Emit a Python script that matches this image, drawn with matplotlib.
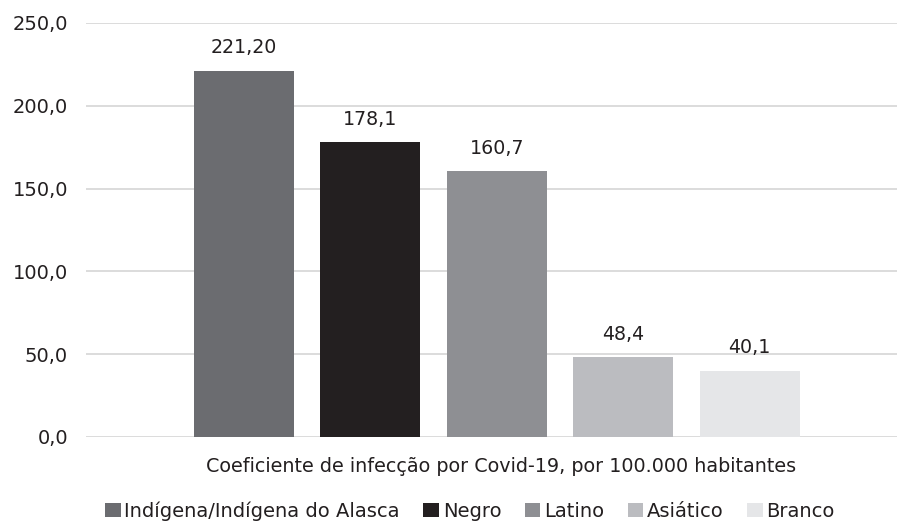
import matplotlib.pyplot as plt
import numpy as np
from matplotlib.patches import Patch

plt.rcParams['font.family'] = ['DejaVu Sans']

grupos = ['Indígena/Indígena do Alasca', 'Negro', 'Latino', 'Asiático', 'Branco']
valores = [221.20, 178.1, 160.7, 48.4, 40.1]
rotulos = ['221,20', '178,1', '160,7', '48,4', '40,1']
cores = ['#6b6c70', '#231f20', '#8e8f93', '#bbbcc0', '#e5e6e8']
yticks = [0, 50, 100, 150, 200, 250]

txt = '#231f20'

fig = plt.figure(figsize=(8.97, 5.31), dpi=100)
ax = fig.add_axes([86/897, 1-437/531, (897-86)/897, (437-23)/531])

x = np.arange(len(valores))
ax.bar(x, valores, width=0.79, color=cores, zorder=3)
for xi, v, r in zip(x, valores, rotulos):
    ax.text(xi, v + 8, r, ha='center', va='bottom', fontsize=13.7, color=txt)

ax.set_ylim(0, 250)
ax.set_xlim(-1.25, 5.166)
ax.set_yticks(yticks)
ax.set_yticklabels([f'{t:.1f}'.replace('.', ',') for t in yticks], fontsize=14, color=txt)
ax.yaxis.grid(True, color='#d9d9d9', linewidth=1.3, zorder=0)
ax.tick_params(axis='y', length=0, pad=13)
ax.tick_params(axis='x', length=0)
ax.set_xticks([])
for s in ax.spines.values():
    s.set_visible(False)

fig.text(501/897, 1-467/531, 'Coeficiente de infecção por Covid-19, por 100.000 habitantes',
         ha='center', va='center', fontsize=13.8, color=txt)

handles = [Patch(facecolor=c, label=g) for c, g in zip(cores, grupos)]
fig.legend(handles=handles, loc='center', bbox_to_anchor=(470/897, 1-511/531), ncol=5,
           frameon=False, fontsize=14, handlelength=0.8, handleheight=0.8,
           handletextpad=0.2, columnspacing=1.2, labelcolor=txt)

fig.savefig('out.png', dpi=100)
